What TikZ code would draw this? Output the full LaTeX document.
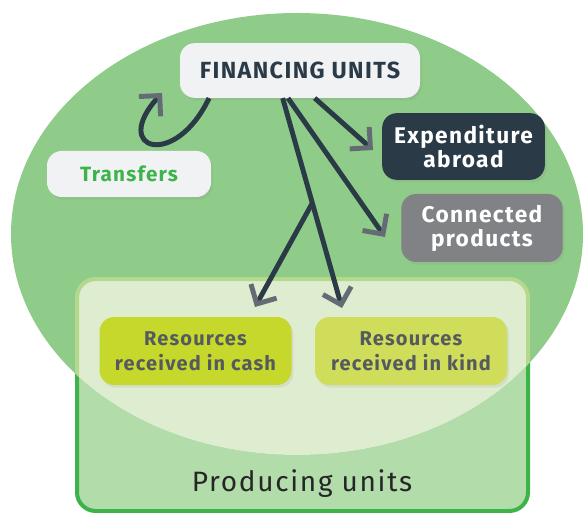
\documentclass[tikz,border=0pt]{standalone}
\usepackage{fontspec}
\setmainfont[LetterSpace=6]{Fira Sans}
\usetikzlibrary{positioning,arrows.meta,shadows}
\definecolor{bubble}{HTML}{8FCB89}
\definecolor{prodfill}{HTML}{B3DCAB}
\definecolor{prodline}{HTML}{3CB44A}
\definecolor{prodlight}{HTML}{DEEDD0}
\definecolor{prodlightline}{HTML}{B5D98C}
\definecolor{paper}{HTML}{F1F2F4}
\definecolor{slate}{HTML}{2A3A46}
\definecolor{stone}{HTML}{808285}
\definecolor{cash}{HTML}{C5D82B}
\definecolor{kind}{HTML}{CFDD5A}
\definecolor{restext}{HTML}{555A5F}
\definecolor{tipgray}{HTML}{646B74}

\begin{document}
\begin{tikzpicture}[x=0.75pt, y=-0.75pt,
  unit/.style={rounded corners=11pt, align=center, inner sep=0pt,
    font=\bfseries\fontsize{15.5}{17}\selectfont,
    drop shadow={opacity=0.12, shadow xshift=1.5pt, shadow yshift=-2pt}},
  resource/.style={unit, minimum width=144pt, minimum height=51pt,
    text=restext, font=\bfseries\fontsize{15}{19}\selectfont},
  flow/.style={draw=slate, line width=3.7pt,
    -{Straight Barb[length=11pt, width=22pt, color=tipgray, line width=3.7pt]}}]

\clip (0,0) rectangle (585,513);

% producing units frame, under the bubble
\draw [fill=prodfill, draw=prodline, line width=3pt, rounded corners=14pt]
  (77,279) rectangle (528,511);

% bubble
\fill [bubble] (297,234) ellipse [x radius=286, y radius=221];

\begin{scope}
  \clip (297,234) ellipse [x radius=286, y radius=221];
  \draw [fill=prodlight, draw=prodlightline, line width=3pt, rounded corners=14pt]
    (77,279) rectangle (528,511);
\end{scope}

\node [font=\fontsize{21}{23}\selectfont, text=black!85] (producing) at (302,484) {Producing units};

% nodes
\node [unit, fill=paper, text=slate, minimum width=180pt, minimum height=41pt,
  font=\bfseries\fontsize{17.5}{19}\selectfont] (fin) at (300,70.5) {FINANCING UNITS};
\node [unit, fill=paper, text=prodline, minimum width=123pt, minimum height=34.5pt] (transfers) at (129,174) {Transfers};
\node [unit, fill=slate, text=white, minimum width=122pt, minimum height=50pt,
  font=\bfseries\fontsize{17}{18}\selectfont] (abroad) at (463.5,146.5) {Expenditure\\abroad};
\node [unit, fill=stone, text=white, minimum width=121pt, minimum height=51pt,
  font=\bfseries\fontsize{17}{18}\selectfont] (connected) at (482,228) {Connected\\products};
\node [resource, fill=cash] (incash) at (195.5,351) {Resources\\received in cash};
\node [resource, fill=kind] (inkind) at (411,351) {Resources\\received in kind};

% arrows
\coordinate (loopend) at (162,93);
\coordinate (abroadtip) at (373,150);
\coordinate (connectedtip) at (385,237);
\coordinate (cashtip) at (255,307);
\coordinate (kindtip) at (342,308);

\draw [flow] (fin.south west) ++(22pt,0) .. controls (175,170) and (110,150) .. (loopend);
\draw [flow] (fin.south) ++(11pt,0) -- (abroadtip);
\draw [flow] (fin.south) ++(-9pt,0) -- (connectedtip);
\draw [flow] (fin.south) ++(-13pt,0) -- (kindtip) coordinate [pos=0.5] (split);
\draw [flow] (split) -- (cashtip);

\end{tikzpicture}
\end{document}
